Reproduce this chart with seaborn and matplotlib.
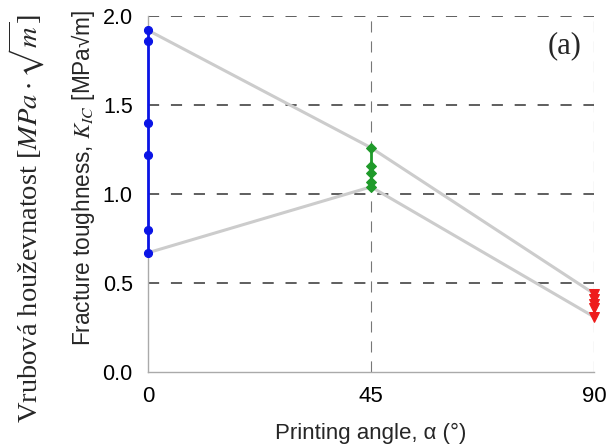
import matplotlib
matplotlib.use("Agg")
import matplotlib.pyplot as plt
import seaborn as sns
import pandas as pd
from matplotlib.ticker import MultipleLocator

# ---- data ----
angles = [0, 45, 90]
kic_0 = [1.92, 1.86, 1.40, 1.22, 0.80, 0.67]
kic_45 = [1.26, 1.16, 1.12, 1.07, 1.04]
kic_90 = [0.44, 0.41, 0.38, 0.36, 0.31]
x_ticks = [0, 45, 90]
y_ticks = [0.0, 0.5, 1.0, 1.5, 2.0]

groups = [kic_0, kic_45, kic_90]
colors = ["#0a14e6", "#1f9a2a", "#ee1c1c"]
markers = ["o", "D", "v"]
msizes = [5.8, 5.0, 7.0]

sns.set_style("white")
plt.rcParams["font.family"] = ["Liberation Sans", "DejaVu Sans"]
plt.rcParams["mathtext.fontset"] = "stix"

fig = plt.figure(figsize=(6.08, 4.48), dpi=100)
ax = fig.add_axes([0.2434, 0.1696, 0.7336, 0.7947])

# envelope lines (max and min of each group)
env = pd.DataFrame({
    "angle": angles * 2,
    "kic": [max(g) for g in groups] + [min(g) for g in groups],
    "which": ["upper"] * 3 + ["lower"] * 3,
})
for w in ["upper", "lower"]:
    sub = env[env["which"] == w]
    sns.lineplot(data=sub, x="angle", y="kic", ax=ax, color="#cccccc",
                 lw=2.2, estimator=None, sort=False, zorder=2)

# per-angle points
for a, g, c, m, ms in zip(angles, groups, colors, markers, msizes):
    df = pd.DataFrame({"angle": [a] * len(g), "kic": g})
    sns.lineplot(data=df, x="angle", y="kic", ax=ax, color=c, lw=2.0,
                 estimator=None, sort=False, marker=m, markersize=ms,
                 markeredgecolor=c, markerfacecolor=c, zorder=4, clip_on=False)

ax.set_xlim(0, 90)
ax.set_ylim(0, 2.0)
ax.set_xticks(x_ticks)
ax.set_yticks(y_ticks)
ax.set_yticklabels([f"{v:.1f}" for v in y_ticks])
ax.xaxis.set_minor_locator(MultipleLocator(22.5))
ax.yaxis.set_minor_locator(MultipleLocator(0.25))

ax.tick_params(axis="both", which="both", direction="in", colors="#999999",
               labelcolor="black")
ax.tick_params(axis="y", which="major", length=0, pad=11, labelsize=15.5)
ax.tick_params(axis="y", which="minor", length=4, width=0.8)
ax.tick_params(axis="x", which="major", length=0, pad=10, labelsize=16)
ax.tick_params(axis="x", which="minor", length=5, width=0.8)

ax.grid(False)
for yv in y_ticks[1:]:
    ax.axhline(yv, color="#333333", lw=1.1, ls=(0, (7.3, 7.7)), zorder=1)
for xv in x_ticks[1:]:
    ax.axvline(xv, color="#777777", lw=0.8, ls=(0, (10, 8)), zorder=1)

for s in ["top", "right"]:
    ax.spines[s].set_visible(False)
for s in ["left", "bottom"]:
    ax.spines[s].set_color("#aaaaaa")
    ax.spines[s].set_linewidth(1.0)

ax.set_xlabel("Printing angle, α (°)", fontsize=16)
ax.xaxis.set_label_coords(0.5, -0.143)
ax.set_ylabel(r"Fracture toughness, $K_{IC}$ [MPa√m]", fontsize=16.3, va="center")
ax.yaxis.set_label_coords(-0.146, 0.545)

ax.text(0.935, 0.916, "(a)", transform=ax.transAxes, ha="center", va="center",
        fontsize=22, family=["Liberation Serif", "DejaVu Serif"])

fig.text(0.044, 0.513, r"Vrubová houževnatost [$MPa\cdot\sqrt{m}$]",
         rotation=90, ha="center", va="center", fontsize=20.5,
         family=["Liberation Serif", "DejaVu Serif"])

fig.savefig("out.png", dpi=100)
